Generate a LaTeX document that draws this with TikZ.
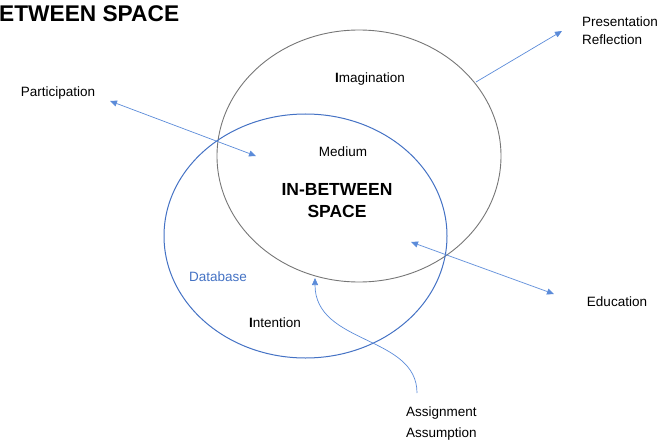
\documentclass[tikz,border=0pt]{standalone}
\usepackage{fontspec}
\setmainfont{Liberation Sans}
\usetikzlibrary{arrows.meta}
\definecolor{ellblue}{HTML}{4472C4}
\definecolor{arrblue}{HTML}{5B8BD9}
\definecolor{ellgray}{HTML}{767676}
\tikzset{
  lbl/.style={font=\fontsize{13.5}{16}\selectfont, inner sep=0pt, text=black},
  conn/.style={draw=arrblue, line width=0.7pt},
  tip/.style={-{Triangle[length=7pt,width=6pt]}},
  tips/.style={{Triangle[length=7pt,width=6pt]}-{Triangle[length=7pt,width=6pt]}},
}
\begin{document}
\begin{tikzpicture}[x=1pt,y=-1pt]
\useasboundingbox (0,0) rectangle (661,441);
% ellipses
\draw[ellgray, line width=0.9pt] (359,156) ellipse [x radius=142, y radius=126];
\draw[ellblue, line width=1pt] (305.5,236) ellipse [x radius=141.5, y radius=122];
% title
\node[anchor=west, inner sep=0pt, font=\bfseries\fontsize{22.7}{26}\selectfont] (title) at (-1,14) {ETWEEN SPACE};
% labels
\node[lbl] (imag) at (370,79) {{\bfseries I}magination};
\node[lbl] (med) at (343,152) {Medium};
\node[inner sep=0pt, align=center, font=\bfseries\fontsize{17.5}{22}\selectfont] (ibs) at (337,201) {IN-BETWEEN\\SPACE};
\node[lbl, text=ellblue] (db) at (218,277) {Database};
\node[lbl] (int) at (275,323) {{\bfseries I}ntention};
\node[lbl] (part) at (58,93) {Participation};
\node[lbl, anchor=west, align=left, font=\fontsize{13.5}{18}\selectfont] (pres) at (582,31) {Presentation\\Reflection};
\node[lbl] (edu) at (617,302) {Education};
\node[lbl, anchor=west, align=left, font=\fontsize{13.5}{21}\selectfont] (assign) at (406,423.5) {Assignment\\Assumption};
% connector endpoints
\coordinate (pa) at (110,101);
\coordinate (pb) at (256,156);
\coordinate (ra) at (476,82);
\coordinate (rb) at (562,31);
\coordinate (ea) at (411,242);
\coordinate (eb) at (554,294);
\coordinate (aa) at (417,393);
\coordinate (ab) at (315,278);
% connectors
\draw[conn, tips] (pa) -- (pb);
\draw[conn, tip] (ra) -- (rb);
\draw[conn, tips] (ea) -- (eb);
\draw[conn, tip] (aa) .. controls (417,335) and (315,345) .. (ab);
\end{tikzpicture}
\end{document}
